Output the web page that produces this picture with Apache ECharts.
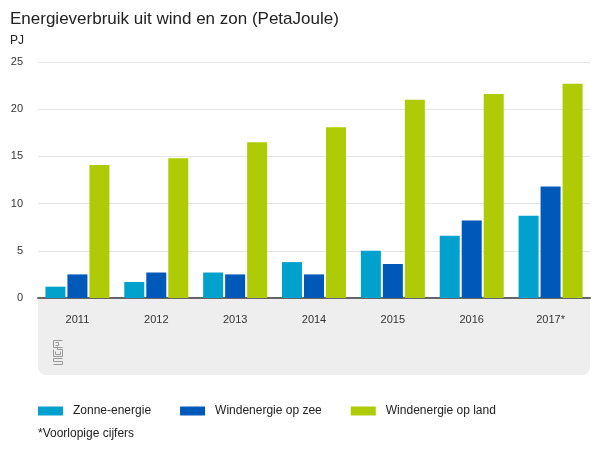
<!DOCTYPE html>
<html>
<head>
<meta charset="utf-8">
<script src="https://cdn.jsdelivr.net/npm/echarts@6/dist/echarts.min.js"></script>
<style>
  html, body { margin: 0; padding: 0; background: #fff; }
  #chart { width: 600px; height: 450px; }
</style>
</head>
<body>
<div id="chart"></div>
<script>
// jaren en waarden (PJ)
var years = ['2011', '2012', '2013', '2014', '2015', '2016', '2017*'];
var zonne = [1.2, 1.7, 2.7, 3.8, 5.0, 6.6, 8.7];
var zee = [2.5, 2.7, 2.5, 2.5, 3.6, 8.2, 11.8];
var land = [14.1, 14.8, 16.5, 18.1, 21.0, 21.6, 22.7];
var seriesNames = ['Zonne-energie', 'Windenergie op zee', 'Windenergie op land'];
var colors = ['#00a1cd', '#0058b8', '#afcb05'];

var font = 'Liberation Sans, Arial, Helvetica, sans-serif';
var chart = echarts.init(document.getElementById('chart'));

function bar(name, data, color) {
  return {
    name: name,
    type: 'bar',
    barWidth: 20,
    barGap: '10%',
    itemStyle: {color: color},
    data: data
  };
}

var option = {
  animation: false,
  textStyle: {fontFamily: font},
  title: [
    {text: 'Energieverbruik uit wind en zon (PetaJoule)', left: 5, top: 6,
      textStyle: {fontFamily: font, fontSize: 17, fontWeight: 'normal', color: '#222'}},
    {text: 'PJ', left: 5, top: 30,
      textStyle: {fontFamily: font, fontSize: 12, fontWeight: 'normal', color: '#222'}}
  ],
  graphic: [
    {type: 'rect', z: -10, shape: {x: 38, y: 298, width: 552, height: 77, r: [0, 0, 8, 8]},
      style: {fill: '#eeeeee'}},
    // cbs logo
    {type: 'group', left: 51, top: 338, children: [
      {type: 'polyline', shape: {points: [[9, 0], [0, 0], [0, 7], [9, 7]]}, style: {stroke: '#999', fill: null, lineWidth: 1}},
      {type: 'polyline', shape: {points: [[2, 2], [5, 2], [5, 5], [2, 5]]}, style: {stroke: '#999', fill: null, lineWidth: 1}},
      {type: 'polyline', shape: {points: [[0, 9], [0, 16], [9, 16], [9, 9], [4, 9], [4, 6]]}, style: {stroke: '#999', fill: null, lineWidth: 1}},
      {type: 'polyline', shape: {points: [[2, 11], [2, 14], [7, 14], [7, 11]]}, style: {stroke: '#999', fill: null, lineWidth: 1}},
      {type: 'polyline', shape: {points: [[9, 18], [0, 18], [0, 21], [9, 21], [9, 24], [0, 24]]}, style: {stroke: '#999', fill: null, lineWidth: 1}}
    ]},
    {type: 'text', left: 38, top: 428,
      style: {text: '*Voorlopige cijfers', font: '12px ' + font, fill: '#222'}}
  ],
  legend: {
    left: 33,
    top: 400,
    itemWidth: 25,
    itemHeight: 9,
    itemGap: 29,
    icon: 'rect',
    textStyle: {fontFamily: font, fontSize: 12, color: '#222', padding: [0, 0, 0, 5]},
    data: seriesNames
  },
  grid: {left: 38, right: 10, top: 62, bottom: 152},
  xAxis: {
    type: 'category',
    data: years,
    axisLine: {lineStyle: {color: '#666', width: 2}},
    axisTick: {show: false},
    axisLabel: {color: '#333', fontSize: 11, margin: 16}
  },
  yAxis: {
    type: 'value',
    min: 0,
    max: 25,
    interval: 5,
    axisLine: {show: false},
    axisTick: {show: false},
    axisLabel: {color: '#333', fontSize: 11, margin: 15},
    splitLine: {lineStyle: {color: '#e6e6e6', width: 1}}
  },
  series: [
    bar(seriesNames[0], zonne, colors[0]),
    bar(seriesNames[1], zee, colors[1]),
    bar(seriesNames[2], land, colors[2])
  ]
};

chart.setOption(option);
</script>
</body>
</html>
